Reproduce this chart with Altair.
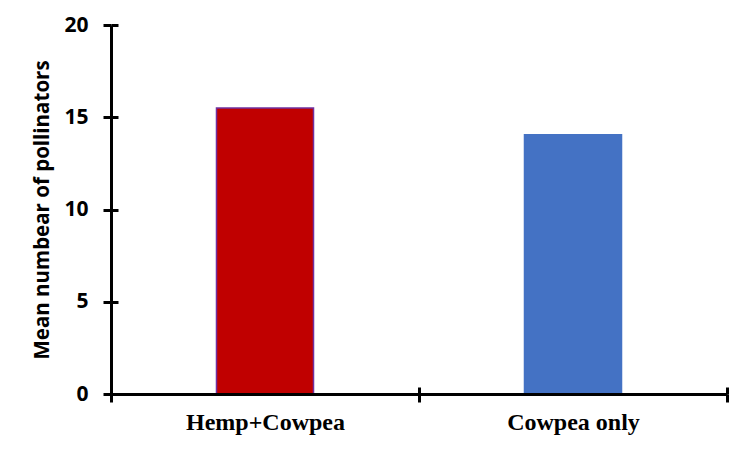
import altair as alt
import pandas as pd

categories = ["Hemp+Cowpea", "Cowpea only"]
values = [15.5, 14.05]
fill_colors = ["#C00000", "#4472C4"]
stroke_colors = ["#7030A0", "#4472C4"]
y_ticks = [0, 5, 10, 15, 20]

df = pd.DataFrame({"cat": categories, "val": values})

W, H = 616, 369

xscale = alt.Scale(domain=categories, paddingInner=0, paddingOuter=0)
yscale = alt.Scale(domain=[0, 20], nice=False)

color = alt.Color("cat:N", scale=alt.Scale(domain=categories, range=fill_colors), legend=None)
stroke = alt.Stroke("cat:N", scale=alt.Scale(domain=categories, range=stroke_colors), legend=None)

bars = alt.Chart(df).mark_bar(width=alt.RelativeBandSize(0.315), strokeWidth=1.5).encode(
    x=alt.X("cat:N", sort=categories, scale=xscale, title=None,
            axis=alt.Axis(orient="bottom", tickBand="extent", labelAngle=0,
                          domainColor="black", domainWidth=3, tickColor="black",
                          tickWidth=3, tickSize=8, labelPadding=8,
                          labelFont="Liberation Serif", labelFontSize=24,
                          labelFontWeight="bold", labelColor="black", zindex=1)),
    y=alt.Y("val:Q", scale=yscale, title="Mean numbear of pollinators",
            axis=alt.Axis(orient="left", values=y_ticks, grid=False,
                          domainColor="black", domainWidth=3, tickColor="black",
                          tickWidth=3, tickSize=8, labelPadding=15,
                          labelFont="Open Sans", labelFontSize=21,
                          labelFontWeight="bold", labelColor="black",
                          titleFont="Open Sans", titleFontSize=20.5,
                          titleFontWeight="bold", titleColor="black",
                          titlePadding=11, zindex=1)),
    color=color,
    stroke=stroke,
)

inner = alt.Chart(df).mark_bar(width=alt.RelativeBandSize(0.315), opacity=0).encode(
    x=alt.X("cat:N", sort=categories, scale=xscale, title=None,
            axis=alt.Axis(orient="top", offset=-H, tickBand="extent", labels=False,
                          domain=False, tickColor="black", tickWidth=3, tickSize=7,
                          zindex=1)),
    y=alt.Y("val:Q", scale=yscale, title=None,
            axis=alt.Axis(orient="right", offset=-W, values=y_ticks, labels=False,
                          grid=False, domain=False, tickColor="black", tickWidth=3,
                          tickSize=7, zindex=1)),
)

chart = alt.layer(bars, inner).resolve_scale(x="independent", y="independent").properties(
    width=W, height=H,
    autosize=alt.AutoSizeParams(type="none"),
    padding={"left": 103, "top": 17, "right": 15, "bottom": 42},
).configure_view(stroke=None)

chart.save("out.html", embed_options={"renderer": "svg", "actions": False})
